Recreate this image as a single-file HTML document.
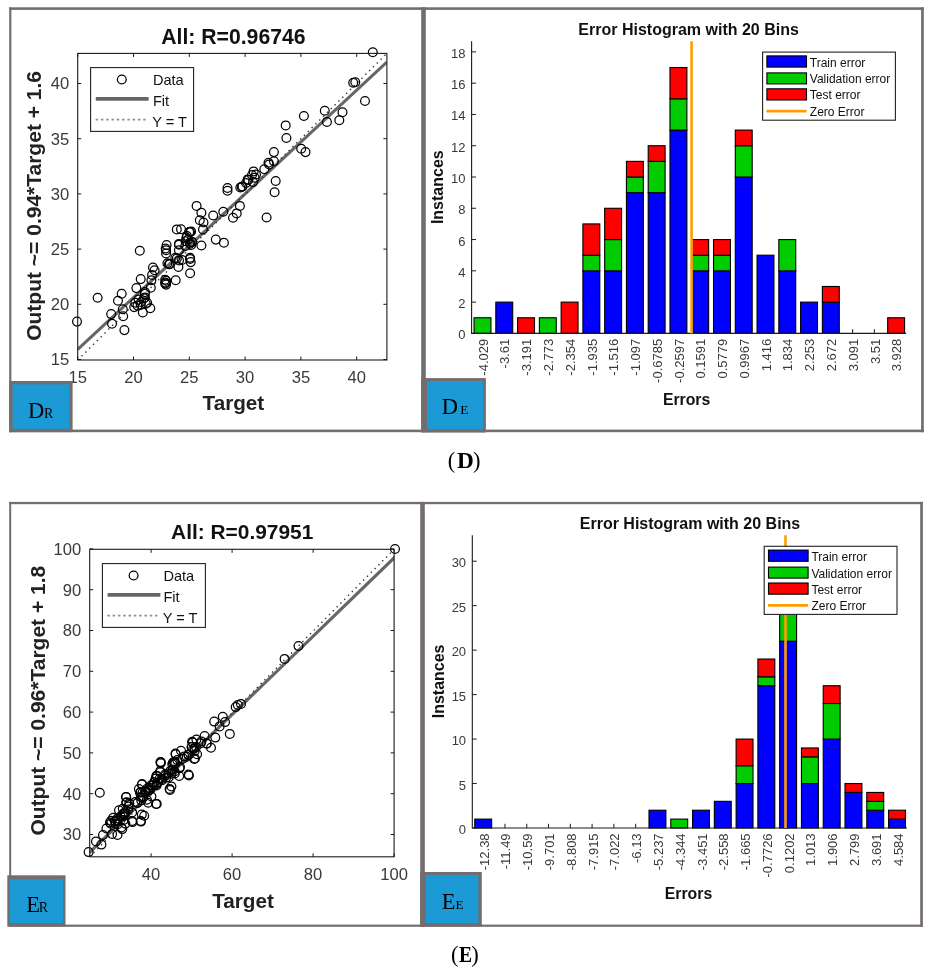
<!DOCTYPE html>
<html><head><meta charset="utf-8"><title>Figure</title>
<style>
html,body{margin:0;padding:0;background:#fff;width:934px;height:975px;overflow:hidden}
svg{display:block;position:absolute;left:0;top:0;filter:blur(0.5px)}
text{font-family:"Liberation Sans",sans-serif}
</style></head><body>
<svg width="934" height="975" viewBox="0 0 934 975">
<g>
<clipPath id="cdr"><rect x="77.7" y="53.4" width="309.2" height="306.6"/></clipPath>
<g clip-path="url(#cdr)">
<line x1="77.7" y1="349.4" x2="386.9" y2="62.1" stroke="#666" stroke-width="3.1"/>
<line x1="77.7" y1="360" x2="386.9" y2="53.4" stroke="#333" stroke-width="1.4" stroke-dasharray="1.4 4"/>
</g>
<circle cx="77" cy="321.6" r="4.4" fill="none" stroke="#000" stroke-width="1.25"/>
<circle cx="97.6" cy="297.7" r="4.4" fill="none" stroke="#000" stroke-width="1.25"/>
<circle cx="121.7" cy="293.7" r="4.4" fill="none" stroke="#000" stroke-width="1.25"/>
<circle cx="118" cy="300.7" r="4.4" fill="none" stroke="#000" stroke-width="1.25"/>
<circle cx="111.2" cy="314.1" r="4.4" fill="none" stroke="#000" stroke-width="1.25"/>
<circle cx="122.8" cy="309.3" r="4.4" fill="none" stroke="#000" stroke-width="1.25"/>
<circle cx="123.2" cy="316.2" r="4.4" fill="none" stroke="#000" stroke-width="1.25"/>
<circle cx="112" cy="323.7" r="4.4" fill="none" stroke="#000" stroke-width="1.25"/>
<circle cx="124.4" cy="330.1" r="4.4" fill="none" stroke="#000" stroke-width="1.25"/>
<circle cx="136.4" cy="288.1" r="4.4" fill="none" stroke="#000" stroke-width="1.25"/>
<circle cx="140.7" cy="279.1" r="4.4" fill="none" stroke="#000" stroke-width="1.25"/>
<circle cx="153" cy="267.5" r="4.4" fill="none" stroke="#000" stroke-width="1.25"/>
<circle cx="154.6" cy="270.2" r="4.4" fill="none" stroke="#000" stroke-width="1.25"/>
<circle cx="151.4" cy="280.3" r="4.4" fill="none" stroke="#000" stroke-width="1.25"/>
<circle cx="150.8" cy="287.8" r="4.4" fill="none" stroke="#000" stroke-width="1.25"/>
<circle cx="135.3" cy="302.8" r="4.4" fill="none" stroke="#000" stroke-width="1.25"/>
<circle cx="145" cy="297.5" r="4.4" fill="none" stroke="#000" stroke-width="1.25"/>
<circle cx="147.1" cy="302.8" r="4.4" fill="none" stroke="#000" stroke-width="1.25"/>
<circle cx="134.2" cy="307.1" r="4.4" fill="none" stroke="#000" stroke-width="1.25"/>
<circle cx="142.8" cy="312.5" r="4.4" fill="none" stroke="#000" stroke-width="1.25"/>
<circle cx="150.3" cy="308.2" r="4.4" fill="none" stroke="#000" stroke-width="1.25"/>
<circle cx="140.7" cy="305" r="4.4" fill="none" stroke="#000" stroke-width="1.25"/>
<circle cx="165.3" cy="282.5" r="4.4" fill="none" stroke="#000" stroke-width="1.25"/>
<circle cx="167.4" cy="263.2" r="4.4" fill="none" stroke="#000" stroke-width="1.25"/>
<circle cx="145" cy="292.1" r="4.4" fill="none" stroke="#000" stroke-width="1.25"/>
<circle cx="138.5" cy="299.6" r="4.4" fill="none" stroke="#000" stroke-width="1.25"/>
<circle cx="196.6" cy="205.9" r="4.4" fill="none" stroke="#000" stroke-width="1.25"/>
<circle cx="201.4" cy="212.8" r="4.4" fill="none" stroke="#000" stroke-width="1.25"/>
<circle cx="199.8" cy="220.3" r="4.4" fill="none" stroke="#000" stroke-width="1.25"/>
<circle cx="203.5" cy="222.5" r="4.4" fill="none" stroke="#000" stroke-width="1.25"/>
<circle cx="203" cy="229.4" r="4.4" fill="none" stroke="#000" stroke-width="1.25"/>
<circle cx="213.2" cy="215.5" r="4.4" fill="none" stroke="#000" stroke-width="1.25"/>
<circle cx="223.3" cy="211.8" r="4.4" fill="none" stroke="#000" stroke-width="1.25"/>
<circle cx="239.9" cy="205.9" r="4.4" fill="none" stroke="#000" stroke-width="1.25"/>
<circle cx="236.7" cy="213.4" r="4.4" fill="none" stroke="#000" stroke-width="1.25"/>
<circle cx="233" cy="217.7" r="4.4" fill="none" stroke="#000" stroke-width="1.25"/>
<circle cx="176.8" cy="229.4" r="4.4" fill="none" stroke="#000" stroke-width="1.25"/>
<circle cx="190.1" cy="232.1" r="4.4" fill="none" stroke="#000" stroke-width="1.25"/>
<circle cx="186.4" cy="237.5" r="4.4" fill="none" stroke="#000" stroke-width="1.25"/>
<circle cx="189.6" cy="242.8" r="4.4" fill="none" stroke="#000" stroke-width="1.25"/>
<circle cx="191.2" cy="245" r="4.4" fill="none" stroke="#000" stroke-width="1.25"/>
<circle cx="201.4" cy="245.5" r="4.4" fill="none" stroke="#000" stroke-width="1.25"/>
<circle cx="178.9" cy="243.9" r="4.4" fill="none" stroke="#000" stroke-width="1.25"/>
<circle cx="166.6" cy="245" r="4.4" fill="none" stroke="#000" stroke-width="1.25"/>
<circle cx="166.1" cy="250.3" r="4.4" fill="none" stroke="#000" stroke-width="1.25"/>
<circle cx="166.1" cy="253.5" r="4.4" fill="none" stroke="#000" stroke-width="1.25"/>
<circle cx="178.9" cy="250.3" r="4.4" fill="none" stroke="#000" stroke-width="1.25"/>
<circle cx="176.8" cy="258.4" r="4.4" fill="none" stroke="#000" stroke-width="1.25"/>
<circle cx="190.1" cy="258.9" r="4.4" fill="none" stroke="#000" stroke-width="1.25"/>
<circle cx="190.7" cy="262.1" r="4.4" fill="none" stroke="#000" stroke-width="1.25"/>
<circle cx="169.8" cy="264.2" r="4.4" fill="none" stroke="#000" stroke-width="1.25"/>
<circle cx="178.4" cy="266.9" r="4.4" fill="none" stroke="#000" stroke-width="1.25"/>
<circle cx="190.1" cy="273.3" r="4.4" fill="none" stroke="#000" stroke-width="1.25"/>
<circle cx="215.8" cy="239.6" r="4.4" fill="none" stroke="#000" stroke-width="1.25"/>
<circle cx="223.9" cy="242.8" r="4.4" fill="none" stroke="#000" stroke-width="1.25"/>
<circle cx="152.1" cy="274.9" r="4.4" fill="none" stroke="#000" stroke-width="1.25"/>
<circle cx="166.1" cy="280.8" r="4.4" fill="none" stroke="#000" stroke-width="1.25"/>
<circle cx="175.7" cy="280.3" r="4.4" fill="none" stroke="#000" stroke-width="1.25"/>
<circle cx="166.1" cy="284.6" r="4.4" fill="none" stroke="#000" stroke-width="1.25"/>
<circle cx="182.1" cy="260" r="4.4" fill="none" stroke="#000" stroke-width="1.25"/>
<circle cx="185.3" cy="246" r="4.4" fill="none" stroke="#000" stroke-width="1.25"/>
<circle cx="227.5" cy="188" r="4.4" fill="none" stroke="#000" stroke-width="1.25"/>
<circle cx="227.5" cy="190.7" r="4.4" fill="none" stroke="#000" stroke-width="1.25"/>
<circle cx="248.4" cy="180" r="4.4" fill="none" stroke="#000" stroke-width="1.25"/>
<circle cx="242.5" cy="186.4" r="4.4" fill="none" stroke="#000" stroke-width="1.25"/>
<circle cx="240.3" cy="187.5" r="4.4" fill="none" stroke="#000" stroke-width="1.25"/>
<circle cx="275.7" cy="181" r="4.4" fill="none" stroke="#000" stroke-width="1.25"/>
<circle cx="274.6" cy="192.3" r="4.4" fill="none" stroke="#000" stroke-width="1.25"/>
<circle cx="266.6" cy="217.5" r="4.4" fill="none" stroke="#000" stroke-width="1.25"/>
<circle cx="191.1" cy="231.4" r="4.4" fill="none" stroke="#000" stroke-width="1.25"/>
<circle cx="192.1" cy="242.1" r="4.4" fill="none" stroke="#000" stroke-width="1.25"/>
<circle cx="285.7" cy="125.4" r="4.4" fill="none" stroke="#000" stroke-width="1.25"/>
<circle cx="286.4" cy="138" r="4.4" fill="none" stroke="#000" stroke-width="1.25"/>
<circle cx="273.9" cy="152.1" r="4.4" fill="none" stroke="#000" stroke-width="1.25"/>
<circle cx="301.2" cy="148.7" r="4.4" fill="none" stroke="#000" stroke-width="1.25"/>
<circle cx="305.5" cy="152.1" r="4.4" fill="none" stroke="#000" stroke-width="1.25"/>
<circle cx="273.9" cy="161.2" r="4.4" fill="none" stroke="#000" stroke-width="1.25"/>
<circle cx="268.5" cy="162.8" r="4.4" fill="none" stroke="#000" stroke-width="1.25"/>
<circle cx="269.1" cy="164.4" r="4.4" fill="none" stroke="#000" stroke-width="1.25"/>
<circle cx="264.3" cy="169.3" r="4.4" fill="none" stroke="#000" stroke-width="1.25"/>
<circle cx="253.6" cy="171.4" r="4.4" fill="none" stroke="#000" stroke-width="1.25"/>
<circle cx="254.6" cy="177.8" r="4.4" fill="none" stroke="#000" stroke-width="1.25"/>
<circle cx="253" cy="182.1" r="4.4" fill="none" stroke="#000" stroke-width="1.25"/>
<circle cx="247.7" cy="179.4" r="4.4" fill="none" stroke="#000" stroke-width="1.25"/>
<circle cx="241.8" cy="186.9" r="4.4" fill="none" stroke="#000" stroke-width="1.25"/>
<circle cx="372.8" cy="52.3" r="4.4" fill="none" stroke="#000" stroke-width="1.25"/>
<circle cx="353.2" cy="82.8" r="4.4" fill="none" stroke="#000" stroke-width="1.25"/>
<circle cx="355.3" cy="82.3" r="4.4" fill="none" stroke="#000" stroke-width="1.25"/>
<circle cx="365" cy="101" r="4.4" fill="none" stroke="#000" stroke-width="1.25"/>
<circle cx="342.5" cy="112.3" r="4.4" fill="none" stroke="#000" stroke-width="1.25"/>
<circle cx="339.3" cy="120.3" r="4.4" fill="none" stroke="#000" stroke-width="1.25"/>
<circle cx="324.8" cy="110.7" r="4.4" fill="none" stroke="#000" stroke-width="1.25"/>
<circle cx="326.9" cy="121.9" r="4.4" fill="none" stroke="#000" stroke-width="1.25"/>
<circle cx="303.9" cy="116" r="4.4" fill="none" stroke="#000" stroke-width="1.25"/>
<circle cx="139.8" cy="250.8" r="4.4" fill="none" stroke="#000" stroke-width="1.25"/>
<circle cx="165.7" cy="248.5" r="4.4" fill="none" stroke="#000" stroke-width="1.25"/>
<circle cx="190.1" cy="243.8" r="4.4" fill="none" stroke="#000" stroke-width="1.25"/>
<circle cx="192" cy="242" r="4.4" fill="none" stroke="#000" stroke-width="1.25"/>
<circle cx="188.3" cy="239.2" r="4.4" fill="none" stroke="#000" stroke-width="1.25"/>
<circle cx="179" cy="244.8" r="4.4" fill="none" stroke="#000" stroke-width="1.25"/>
<circle cx="175.4" cy="257.7" r="4.4" fill="none" stroke="#000" stroke-width="1.25"/>
<circle cx="179" cy="260.4" r="4.4" fill="none" stroke="#000" stroke-width="1.25"/>
<circle cx="190.1" cy="257.7" r="4.4" fill="none" stroke="#000" stroke-width="1.25"/>
<circle cx="168.9" cy="264.1" r="4.4" fill="none" stroke="#000" stroke-width="1.25"/>
<circle cx="165.2" cy="279.8" r="4.4" fill="none" stroke="#000" stroke-width="1.25"/>
<circle cx="165.2" cy="283.5" r="4.4" fill="none" stroke="#000" stroke-width="1.25"/>
<circle cx="144" cy="298.3" r="4.4" fill="none" stroke="#000" stroke-width="1.25"/>
<circle cx="145.8" cy="303.8" r="4.4" fill="none" stroke="#000" stroke-width="1.25"/>
<circle cx="137.5" cy="305.6" r="4.4" fill="none" stroke="#000" stroke-width="1.25"/>
<circle cx="141.2" cy="302" r="4.4" fill="none" stroke="#000" stroke-width="1.25"/>
<circle cx="144.9" cy="293.7" r="4.4" fill="none" stroke="#000" stroke-width="1.25"/>
<circle cx="189.2" cy="232" r="4.4" fill="none" stroke="#000" stroke-width="1.25"/>
<circle cx="185.5" cy="241.2" r="4.4" fill="none" stroke="#000" stroke-width="1.25"/>
<circle cx="181" cy="229.2" r="4.4" fill="none" stroke="#000" stroke-width="1.25"/>
<circle cx="187" cy="236" r="4.4" fill="none" stroke="#000" stroke-width="1.25"/>
<circle cx="252" cy="175" r="4.4" fill="none" stroke="#000" stroke-width="1.25"/>
<circle cx="256" cy="174.5" r="4.4" fill="none" stroke="#000" stroke-width="1.25"/>
<circle cx="246" cy="183" r="4.4" fill="none" stroke="#000" stroke-width="1.25"/>
<rect x="77.7" y="53.4" width="309.2" height="306.6" fill="none" stroke="#1a1a1a" stroke-width="1.1"/>
<line x1="77.7" y1="360" x2="77.7" y2="356.5" stroke="#1a1a1a" stroke-width="1"/>
<line x1="77.7" y1="53.4" x2="77.7" y2="56.9" stroke="#1a1a1a" stroke-width="1"/>
<text x="77.7" y="383.4" font-size="16.6" fill="#3a3a3a" text-anchor="middle">15</text>
<line x1="133.5" y1="360" x2="133.5" y2="356.5" stroke="#1a1a1a" stroke-width="1"/>
<line x1="133.5" y1="53.4" x2="133.5" y2="56.9" stroke="#1a1a1a" stroke-width="1"/>
<text x="133.5" y="383.4" font-size="16.6" fill="#3a3a3a" text-anchor="middle">20</text>
<line x1="189.3" y1="360" x2="189.3" y2="356.5" stroke="#1a1a1a" stroke-width="1"/>
<line x1="189.3" y1="53.4" x2="189.3" y2="56.9" stroke="#1a1a1a" stroke-width="1"/>
<text x="189.3" y="383.4" font-size="16.6" fill="#3a3a3a" text-anchor="middle">25</text>
<line x1="245.1" y1="360" x2="245.1" y2="356.5" stroke="#1a1a1a" stroke-width="1"/>
<line x1="245.1" y1="53.4" x2="245.1" y2="56.9" stroke="#1a1a1a" stroke-width="1"/>
<text x="245.1" y="383.4" font-size="16.6" fill="#3a3a3a" text-anchor="middle">30</text>
<line x1="300.9" y1="360" x2="300.9" y2="356.5" stroke="#1a1a1a" stroke-width="1"/>
<line x1="300.9" y1="53.4" x2="300.9" y2="56.9" stroke="#1a1a1a" stroke-width="1"/>
<text x="300.9" y="383.4" font-size="16.6" fill="#3a3a3a" text-anchor="middle">35</text>
<line x1="356.7" y1="360" x2="356.7" y2="356.5" stroke="#1a1a1a" stroke-width="1"/>
<line x1="356.7" y1="53.4" x2="356.7" y2="56.9" stroke="#1a1a1a" stroke-width="1"/>
<text x="356.7" y="383.4" font-size="16.6" fill="#3a3a3a" text-anchor="middle">40</text>
<line x1="77.7" y1="359.5" x2="81.2" y2="359.5" stroke="#1a1a1a" stroke-width="1"/>
<line x1="386.9" y1="359.5" x2="383.4" y2="359.5" stroke="#1a1a1a" stroke-width="1"/>
<text x="69.3" y="365.44" font-size="16.6" fill="#3a3a3a" text-anchor="end">15</text>
<line x1="77.7" y1="304.3" x2="81.2" y2="304.3" stroke="#1a1a1a" stroke-width="1"/>
<line x1="386.9" y1="304.3" x2="383.4" y2="304.3" stroke="#1a1a1a" stroke-width="1"/>
<text x="69.3" y="310.24" font-size="16.6" fill="#3a3a3a" text-anchor="end">20</text>
<line x1="77.7" y1="249.1" x2="81.2" y2="249.1" stroke="#1a1a1a" stroke-width="1"/>
<line x1="386.9" y1="249.1" x2="383.4" y2="249.1" stroke="#1a1a1a" stroke-width="1"/>
<text x="69.3" y="255.04" font-size="16.6" fill="#3a3a3a" text-anchor="end">25</text>
<line x1="77.7" y1="193.9" x2="81.2" y2="193.9" stroke="#1a1a1a" stroke-width="1"/>
<line x1="386.9" y1="193.9" x2="383.4" y2="193.9" stroke="#1a1a1a" stroke-width="1"/>
<text x="69.3" y="199.84" font-size="16.6" fill="#3a3a3a" text-anchor="end">30</text>
<line x1="77.7" y1="138.7" x2="81.2" y2="138.7" stroke="#1a1a1a" stroke-width="1"/>
<line x1="386.9" y1="138.7" x2="383.4" y2="138.7" stroke="#1a1a1a" stroke-width="1"/>
<text x="69.3" y="144.64" font-size="16.6" fill="#3a3a3a" text-anchor="end">35</text>
<line x1="77.7" y1="83.5" x2="81.2" y2="83.5" stroke="#1a1a1a" stroke-width="1"/>
<line x1="386.9" y1="83.5" x2="383.4" y2="83.5" stroke="#1a1a1a" stroke-width="1"/>
<text x="69.3" y="89.44" font-size="16.6" fill="#3a3a3a" text-anchor="end">40</text>
<rect x="90.6" y="67.6" width="103" height="63.8" fill="#fff" stroke="#222" stroke-width="1.1"/>
<circle cx="121.8" cy="79.5" r="4.4" fill="none" stroke="#000" stroke-width="1.25"/>
<line x1="95.8" y1="98.9" x2="148.6" y2="98.9" stroke="#666" stroke-width="3.6"/>
<line x1="95.6" y1="119.7" x2="145.6" y2="119.7" stroke="#8a8a8a" stroke-width="1.7" stroke-dasharray="2.4 2.9"/>
<text x="152.9" y="85.1" font-size="14.6" fill="#111">Data</text>
<text x="152.9" y="105.9" font-size="14.6" fill="#111">Fit</text>
<text x="152.2" y="126.9" font-size="14.6" fill="#111">Y = T</text>
<text x="233.4" y="43.6" font-size="21.2" font-weight="bold" fill="#111" text-anchor="middle">All: R=0.96746</text>
<text x="233.4" y="410.4" font-size="20.7" font-weight="bold" fill="#222" text-anchor="middle">Target</text>
<text transform="translate(41.2,205.9) rotate(-90)" x="0" y="0" font-size="21" font-weight="bold" fill="#222" text-anchor="middle">Output ~= 0.94*Target + 1.6</text>
</g>
<g>
<line x1="482.5" y1="333.4" x2="482.5" y2="329.2" stroke="#1a1a1a" stroke-width="1"/>
<line x1="504.27" y1="333.4" x2="504.27" y2="329.2" stroke="#1a1a1a" stroke-width="1"/>
<line x1="526.04" y1="333.4" x2="526.04" y2="329.2" stroke="#1a1a1a" stroke-width="1"/>
<line x1="547.81" y1="333.4" x2="547.81" y2="329.2" stroke="#1a1a1a" stroke-width="1"/>
<line x1="569.58" y1="333.4" x2="569.58" y2="329.2" stroke="#1a1a1a" stroke-width="1"/>
<line x1="591.35" y1="333.4" x2="591.35" y2="329.2" stroke="#1a1a1a" stroke-width="1"/>
<line x1="613.12" y1="333.4" x2="613.12" y2="329.2" stroke="#1a1a1a" stroke-width="1"/>
<line x1="634.89" y1="333.4" x2="634.89" y2="329.2" stroke="#1a1a1a" stroke-width="1"/>
<line x1="656.66" y1="333.4" x2="656.66" y2="329.2" stroke="#1a1a1a" stroke-width="1"/>
<line x1="678.43" y1="333.4" x2="678.43" y2="329.2" stroke="#1a1a1a" stroke-width="1"/>
<line x1="700.2" y1="333.4" x2="700.2" y2="329.2" stroke="#1a1a1a" stroke-width="1"/>
<line x1="721.97" y1="333.4" x2="721.97" y2="329.2" stroke="#1a1a1a" stroke-width="1"/>
<line x1="743.74" y1="333.4" x2="743.74" y2="329.2" stroke="#1a1a1a" stroke-width="1"/>
<line x1="765.51" y1="333.4" x2="765.51" y2="329.2" stroke="#1a1a1a" stroke-width="1"/>
<line x1="787.28" y1="333.4" x2="787.28" y2="329.2" stroke="#1a1a1a" stroke-width="1"/>
<line x1="809.05" y1="333.4" x2="809.05" y2="329.2" stroke="#1a1a1a" stroke-width="1"/>
<line x1="830.82" y1="333.4" x2="830.82" y2="329.2" stroke="#1a1a1a" stroke-width="1"/>
<line x1="852.59" y1="333.4" x2="852.59" y2="329.2" stroke="#1a1a1a" stroke-width="1"/>
<line x1="874.36" y1="333.4" x2="874.36" y2="329.2" stroke="#1a1a1a" stroke-width="1"/>
<line x1="896.13" y1="333.4" x2="896.13" y2="329.2" stroke="#1a1a1a" stroke-width="1"/>
<rect x="474.05" y="317.76" width="16.9" height="15.64" fill="#00cc00" stroke="#000" stroke-width="1.1"/>
<rect x="495.82" y="302.12" width="16.9" height="31.28" fill="#0000ff" stroke="#000" stroke-width="1.1"/>
<rect x="517.59" y="317.76" width="16.9" height="15.64" fill="#ff0000" stroke="#000" stroke-width="1.1"/>
<rect x="539.36" y="317.76" width="16.9" height="15.64" fill="#00cc00" stroke="#000" stroke-width="1.1"/>
<rect x="561.13" y="302.12" width="16.9" height="31.28" fill="#ff0000" stroke="#000" stroke-width="1.1"/>
<rect x="582.9" y="270.84" width="16.9" height="62.56" fill="#0000ff" stroke="#000" stroke-width="1.1"/>
<rect x="582.9" y="255.2" width="16.9" height="15.64" fill="#00cc00" stroke="#000" stroke-width="1.1"/>
<rect x="582.9" y="223.92" width="16.9" height="31.28" fill="#ff0000" stroke="#000" stroke-width="1.1"/>
<rect x="604.67" y="270.84" width="16.9" height="62.56" fill="#0000ff" stroke="#000" stroke-width="1.1"/>
<rect x="604.67" y="239.56" width="16.9" height="31.28" fill="#00cc00" stroke="#000" stroke-width="1.1"/>
<rect x="604.67" y="208.28" width="16.9" height="31.28" fill="#ff0000" stroke="#000" stroke-width="1.1"/>
<rect x="626.44" y="192.64" width="16.9" height="140.76" fill="#0000ff" stroke="#000" stroke-width="1.1"/>
<rect x="626.44" y="177" width="16.9" height="15.64" fill="#00cc00" stroke="#000" stroke-width="1.1"/>
<rect x="626.44" y="161.36" width="16.9" height="15.64" fill="#ff0000" stroke="#000" stroke-width="1.1"/>
<rect x="648.21" y="192.64" width="16.9" height="140.76" fill="#0000ff" stroke="#000" stroke-width="1.1"/>
<rect x="648.21" y="161.36" width="16.9" height="31.28" fill="#00cc00" stroke="#000" stroke-width="1.1"/>
<rect x="648.21" y="145.72" width="16.9" height="15.64" fill="#ff0000" stroke="#000" stroke-width="1.1"/>
<rect x="669.98" y="130.08" width="16.9" height="203.32" fill="#0000ff" stroke="#000" stroke-width="1.1"/>
<rect x="669.98" y="98.8" width="16.9" height="31.28" fill="#00cc00" stroke="#000" stroke-width="1.1"/>
<rect x="669.98" y="67.52" width="16.9" height="31.28" fill="#ff0000" stroke="#000" stroke-width="1.1"/>
<rect x="691.75" y="270.84" width="16.9" height="62.56" fill="#0000ff" stroke="#000" stroke-width="1.1"/>
<rect x="691.75" y="255.2" width="16.9" height="15.64" fill="#00cc00" stroke="#000" stroke-width="1.1"/>
<rect x="691.75" y="239.56" width="16.9" height="15.64" fill="#ff0000" stroke="#000" stroke-width="1.1"/>
<rect x="713.52" y="270.84" width="16.9" height="62.56" fill="#0000ff" stroke="#000" stroke-width="1.1"/>
<rect x="713.52" y="255.2" width="16.9" height="15.64" fill="#00cc00" stroke="#000" stroke-width="1.1"/>
<rect x="713.52" y="239.56" width="16.9" height="15.64" fill="#ff0000" stroke="#000" stroke-width="1.1"/>
<rect x="735.29" y="177" width="16.9" height="156.4" fill="#0000ff" stroke="#000" stroke-width="1.1"/>
<rect x="735.29" y="145.72" width="16.9" height="31.28" fill="#00cc00" stroke="#000" stroke-width="1.1"/>
<rect x="735.29" y="130.08" width="16.9" height="15.64" fill="#ff0000" stroke="#000" stroke-width="1.1"/>
<rect x="757.06" y="255.2" width="16.9" height="78.2" fill="#0000ff" stroke="#000" stroke-width="1.1"/>
<rect x="778.83" y="270.84" width="16.9" height="62.56" fill="#0000ff" stroke="#000" stroke-width="1.1"/>
<rect x="778.83" y="239.56" width="16.9" height="31.28" fill="#00cc00" stroke="#000" stroke-width="1.1"/>
<rect x="800.6" y="302.12" width="16.9" height="31.28" fill="#0000ff" stroke="#000" stroke-width="1.1"/>
<rect x="822.37" y="302.12" width="16.9" height="31.28" fill="#0000ff" stroke="#000" stroke-width="1.1"/>
<rect x="822.37" y="286.48" width="16.9" height="15.64" fill="#ff0000" stroke="#000" stroke-width="1.1"/>
<rect x="887.68" y="317.76" width="16.9" height="15.64" fill="#ff0000" stroke="#000" stroke-width="1.1"/>
<text transform="translate(487.7,338.8) rotate(-90)" x="0" y="0" font-size="13" fill="#3a3a3a" text-anchor="end">-4.029</text>
<text transform="translate(509.47,338.8) rotate(-90)" x="0" y="0" font-size="13" fill="#3a3a3a" text-anchor="end">-3.61</text>
<text transform="translate(531.24,338.8) rotate(-90)" x="0" y="0" font-size="13" fill="#3a3a3a" text-anchor="end">-3.191</text>
<text transform="translate(553.01,338.8) rotate(-90)" x="0" y="0" font-size="13" fill="#3a3a3a" text-anchor="end">-2.773</text>
<text transform="translate(574.78,338.8) rotate(-90)" x="0" y="0" font-size="13" fill="#3a3a3a" text-anchor="end">-2.354</text>
<text transform="translate(596.55,338.8) rotate(-90)" x="0" y="0" font-size="13" fill="#3a3a3a" text-anchor="end">-1.935</text>
<text transform="translate(618.32,338.8) rotate(-90)" x="0" y="0" font-size="13" fill="#3a3a3a" text-anchor="end">-1.516</text>
<text transform="translate(640.09,338.8) rotate(-90)" x="0" y="0" font-size="13" fill="#3a3a3a" text-anchor="end">-1.097</text>
<text transform="translate(661.86,338.8) rotate(-90)" x="0" y="0" font-size="13" fill="#3a3a3a" text-anchor="end">-0.6785</text>
<text transform="translate(683.63,338.8) rotate(-90)" x="0" y="0" font-size="13" fill="#3a3a3a" text-anchor="end">-0.2597</text>
<text transform="translate(705.4,338.8) rotate(-90)" x="0" y="0" font-size="13" fill="#3a3a3a" text-anchor="end">0.1591</text>
<text transform="translate(727.17,338.8) rotate(-90)" x="0" y="0" font-size="13" fill="#3a3a3a" text-anchor="end">0.5779</text>
<text transform="translate(748.94,338.8) rotate(-90)" x="0" y="0" font-size="13" fill="#3a3a3a" text-anchor="end">0.9967</text>
<text transform="translate(770.71,338.8) rotate(-90)" x="0" y="0" font-size="13" fill="#3a3a3a" text-anchor="end">1.416</text>
<text transform="translate(792.48,338.8) rotate(-90)" x="0" y="0" font-size="13" fill="#3a3a3a" text-anchor="end">1.834</text>
<text transform="translate(814.25,338.8) rotate(-90)" x="0" y="0" font-size="13" fill="#3a3a3a" text-anchor="end">2.253</text>
<text transform="translate(836.02,338.8) rotate(-90)" x="0" y="0" font-size="13" fill="#3a3a3a" text-anchor="end">2.672</text>
<text transform="translate(857.79,338.8) rotate(-90)" x="0" y="0" font-size="13" fill="#3a3a3a" text-anchor="end">3.091</text>
<text transform="translate(879.56,338.8) rotate(-90)" x="0" y="0" font-size="13" fill="#3a3a3a" text-anchor="end">3.51</text>
<text transform="translate(901.33,338.8) rotate(-90)" x="0" y="0" font-size="13" fill="#3a3a3a" text-anchor="end">3.928</text>
<line x1="471.6" y1="41.3" x2="471.6" y2="333.9" stroke="#1a1a1a" stroke-width="1.1"/>
<line x1="471.6" y1="333.4" x2="906.2" y2="333.4" stroke="#1a1a1a" stroke-width="1.1"/>
<line x1="471.6" y1="333.4" x2="476" y2="333.4" stroke="#1a1a1a" stroke-width="1"/>
<text x="465.4" y="339.4" font-size="13" fill="#3a3a3a" text-anchor="end">0</text>
<line x1="471.6" y1="302.12" x2="476" y2="302.12" stroke="#1a1a1a" stroke-width="1"/>
<text x="465.4" y="308.12" font-size="13" fill="#3a3a3a" text-anchor="end">2</text>
<line x1="471.6" y1="270.84" x2="476" y2="270.84" stroke="#1a1a1a" stroke-width="1"/>
<text x="465.4" y="276.84" font-size="13" fill="#3a3a3a" text-anchor="end">4</text>
<line x1="471.6" y1="239.56" x2="476" y2="239.56" stroke="#1a1a1a" stroke-width="1"/>
<text x="465.4" y="245.56" font-size="13" fill="#3a3a3a" text-anchor="end">6</text>
<line x1="471.6" y1="208.28" x2="476" y2="208.28" stroke="#1a1a1a" stroke-width="1"/>
<text x="465.4" y="214.28" font-size="13" fill="#3a3a3a" text-anchor="end">8</text>
<line x1="471.6" y1="177" x2="476" y2="177" stroke="#1a1a1a" stroke-width="1"/>
<text x="465.4" y="183" font-size="13" fill="#3a3a3a" text-anchor="end">10</text>
<line x1="471.6" y1="145.72" x2="476" y2="145.72" stroke="#1a1a1a" stroke-width="1"/>
<text x="465.4" y="151.72" font-size="13" fill="#3a3a3a" text-anchor="end">12</text>
<line x1="471.6" y1="114.44" x2="476" y2="114.44" stroke="#1a1a1a" stroke-width="1"/>
<text x="465.4" y="120.44" font-size="13" fill="#3a3a3a" text-anchor="end">14</text>
<line x1="471.6" y1="83.16" x2="476" y2="83.16" stroke="#1a1a1a" stroke-width="1"/>
<text x="465.4" y="89.16" font-size="13" fill="#3a3a3a" text-anchor="end">16</text>
<line x1="471.6" y1="51.88" x2="476" y2="51.88" stroke="#1a1a1a" stroke-width="1"/>
<text x="465.4" y="57.88" font-size="13" fill="#3a3a3a" text-anchor="end">18</text>
<line x1="691.6" y1="41.3" x2="691.6" y2="333.4" stroke="#ff9d00" stroke-width="2.6"/>
<rect x="762.6" y="52.1" width="132.8" height="68.1" fill="#fff" stroke="#222" stroke-width="1.1"/>
<rect x="766.9" y="55.9" width="39.6" height="11.2" fill="#0000ff" stroke="#000" stroke-width="1.1"/>
<rect x="766.9" y="72.9" width="39.6" height="11" fill="#00cc00" stroke="#000" stroke-width="1.1"/>
<rect x="766.9" y="88.8" width="39.6" height="11.2" fill="#ff0000" stroke="#000" stroke-width="1.1"/>
<line x1="766.4" y1="111.1" x2="806.6" y2="111.1" stroke="#ff9d00" stroke-width="2.8"/>
<text x="809.8" y="66.7" font-size="12" fill="#111">Train error</text>
<text x="809.8" y="83.3" font-size="12" fill="#111">Validation error</text>
<text x="809.8" y="99.4" font-size="12" fill="#111">Test error</text>
<text x="809.8" y="115.6" font-size="12" fill="#111">Zero Error</text>
<text x="688.6" y="35.2" font-size="16" font-weight="bold" fill="#111" text-anchor="middle">Error Histogram with 20 Bins</text>
<text x="686.6" y="405.1" font-size="15.8" font-weight="bold" fill="#111" text-anchor="middle">Errors</text>
<text transform="translate(443.3,187.2) rotate(-90)" x="0" y="0" font-size="16" font-weight="bold" fill="#111" text-anchor="middle">Instances</text>
</g>
<g>
<clipPath id="cer"><rect x="89.7" y="549.3" width="304.4" height="307.5"/></clipPath>
<g clip-path="url(#cer)">
<line x1="89.14" y1="852.81" x2="396.12" y2="555.92" stroke="#666" stroke-width="3.1"/>
<line x1="89.7" y1="856.8" x2="394.1" y2="549.3" stroke="#333" stroke-width="1.4" stroke-dasharray="1.4 4"/>
</g>
<circle cx="99.8" cy="792.7" r="4.4" fill="none" stroke="#000" stroke-width="1.25"/>
<circle cx="160.8" cy="763.2" r="4.4" fill="none" stroke="#000" stroke-width="1.25"/>
<circle cx="88.6" cy="852.1" r="4.4" fill="none" stroke="#000" stroke-width="1.25"/>
<circle cx="126" cy="797" r="4.4" fill="none" stroke="#000" stroke-width="1.25"/>
<circle cx="126.6" cy="802.3" r="4.4" fill="none" stroke="#000" stroke-width="1.25"/>
<circle cx="103" cy="835" r="4.4" fill="none" stroke="#000" stroke-width="1.25"/>
<circle cx="96" cy="841.4" r="4.4" fill="none" stroke="#000" stroke-width="1.25"/>
<circle cx="101.4" cy="844.6" r="4.4" fill="none" stroke="#000" stroke-width="1.25"/>
<circle cx="142.1" cy="784.1" r="4.4" fill="none" stroke="#000" stroke-width="1.25"/>
<circle cx="140" cy="792.7" r="4.4" fill="none" stroke="#000" stroke-width="1.25"/>
<circle cx="157.1" cy="776" r="4.4" fill="none" stroke="#000" stroke-width="1.25"/>
<circle cx="156" cy="803.9" r="4.4" fill="none" stroke="#000" stroke-width="1.25"/>
<circle cx="170" cy="790" r="4.4" fill="none" stroke="#000" stroke-width="1.25"/>
<circle cx="141" cy="821.6" r="4.4" fill="none" stroke="#000" stroke-width="1.25"/>
<circle cx="132.5" cy="822.1" r="4.4" fill="none" stroke="#000" stroke-width="1.25"/>
<circle cx="144.2" cy="815.7" r="4.4" fill="none" stroke="#000" stroke-width="1.25"/>
<circle cx="115.3" cy="821.6" r="4.4" fill="none" stroke="#000" stroke-width="1.25"/>
<circle cx="122.3" cy="829.1" r="4.4" fill="none" stroke="#000" stroke-width="1.25"/>
<circle cx="117.5" cy="835" r="4.4" fill="none" stroke="#000" stroke-width="1.25"/>
<circle cx="112.1" cy="833.9" r="4.4" fill="none" stroke="#000" stroke-width="1.25"/>
<circle cx="237.8" cy="705" r="4.4" fill="none" stroke="#000" stroke-width="1.25"/>
<circle cx="241" cy="703.9" r="4.4" fill="none" stroke="#000" stroke-width="1.25"/>
<circle cx="235.7" cy="707.1" r="4.4" fill="none" stroke="#000" stroke-width="1.25"/>
<circle cx="214.2" cy="721.6" r="4.4" fill="none" stroke="#000" stroke-width="1.25"/>
<circle cx="222.8" cy="716.8" r="4.4" fill="none" stroke="#000" stroke-width="1.25"/>
<circle cx="225" cy="722.1" r="4.4" fill="none" stroke="#000" stroke-width="1.25"/>
<circle cx="219.6" cy="726.4" r="4.4" fill="none" stroke="#000" stroke-width="1.25"/>
<circle cx="229.8" cy="733.9" r="4.4" fill="none" stroke="#000" stroke-width="1.25"/>
<circle cx="215.3" cy="737.6" r="4.4" fill="none" stroke="#000" stroke-width="1.25"/>
<circle cx="204.6" cy="736" r="4.4" fill="none" stroke="#000" stroke-width="1.25"/>
<circle cx="201.4" cy="741.4" r="4.4" fill="none" stroke="#000" stroke-width="1.25"/>
<circle cx="192.8" cy="742.5" r="4.4" fill="none" stroke="#000" stroke-width="1.25"/>
<circle cx="206.7" cy="743.5" r="4.4" fill="none" stroke="#000" stroke-width="1.25"/>
<circle cx="211" cy="747.8" r="4.4" fill="none" stroke="#000" stroke-width="1.25"/>
<circle cx="197.1" cy="754.2" r="4.4" fill="none" stroke="#000" stroke-width="1.25"/>
<circle cx="195" cy="758.5" r="4.4" fill="none" stroke="#000" stroke-width="1.25"/>
<circle cx="175.7" cy="754.2" r="4.4" fill="none" stroke="#000" stroke-width="1.25"/>
<circle cx="184.3" cy="756.4" r="4.4" fill="none" stroke="#000" stroke-width="1.25"/>
<circle cx="160.7" cy="762.3" r="4.4" fill="none" stroke="#000" stroke-width="1.25"/>
<circle cx="174.6" cy="762.8" r="4.4" fill="none" stroke="#000" stroke-width="1.25"/>
<circle cx="180" cy="767.1" r="4.4" fill="none" stroke="#000" stroke-width="1.25"/>
<circle cx="188.5" cy="774.6" r="4.4" fill="none" stroke="#000" stroke-width="1.25"/>
<circle cx="174.6" cy="771.4" r="4.4" fill="none" stroke="#000" stroke-width="1.25"/>
<circle cx="156.4" cy="775.7" r="4.4" fill="none" stroke="#000" stroke-width="1.25"/>
<circle cx="166.1" cy="777.8" r="4.4" fill="none" stroke="#000" stroke-width="1.25"/>
<circle cx="156.4" cy="784.2" r="4.4" fill="none" stroke="#000" stroke-width="1.25"/>
<circle cx="171.4" cy="786.4" r="4.4" fill="none" stroke="#000" stroke-width="1.25"/>
<circle cx="160.5" cy="762.1" r="4.4" fill="none" stroke="#000" stroke-width="1.25"/>
<circle cx="175.5" cy="753.6" r="4.4" fill="none" stroke="#000" stroke-width="1.25"/>
<circle cx="186.7" cy="756.8" r="4.4" fill="none" stroke="#000" stroke-width="1.25"/>
<circle cx="192.1" cy="741.8" r="4.4" fill="none" stroke="#000" stroke-width="1.25"/>
<circle cx="196.4" cy="739.6" r="4.4" fill="none" stroke="#000" stroke-width="1.25"/>
<circle cx="194.2" cy="758.9" r="4.4" fill="none" stroke="#000" stroke-width="1.25"/>
<circle cx="188.9" cy="775.5" r="4.4" fill="none" stroke="#000" stroke-width="1.25"/>
<circle cx="179.2" cy="776" r="4.4" fill="none" stroke="#000" stroke-width="1.25"/>
<circle cx="173.9" cy="762.1" r="4.4" fill="none" stroke="#000" stroke-width="1.25"/>
<circle cx="172.8" cy="769.6" r="4.4" fill="none" stroke="#000" stroke-width="1.25"/>
<circle cx="156.7" cy="776" r="4.4" fill="none" stroke="#000" stroke-width="1.25"/>
<circle cx="162.1" cy="780.3" r="4.4" fill="none" stroke="#000" stroke-width="1.25"/>
<circle cx="169.6" cy="788.9" r="4.4" fill="none" stroke="#000" stroke-width="1.25"/>
<circle cx="141.8" cy="784.6" r="4.4" fill="none" stroke="#000" stroke-width="1.25"/>
<circle cx="149.3" cy="787.8" r="4.4" fill="none" stroke="#000" stroke-width="1.25"/>
<circle cx="140.7" cy="792.1" r="4.4" fill="none" stroke="#000" stroke-width="1.25"/>
<circle cx="151.4" cy="796.4" r="4.4" fill="none" stroke="#000" stroke-width="1.25"/>
<circle cx="156.7" cy="803.9" r="4.4" fill="none" stroke="#000" stroke-width="1.25"/>
<circle cx="126.2" cy="796.9" r="4.4" fill="none" stroke="#000" stroke-width="1.25"/>
<circle cx="126.2" cy="802.8" r="4.4" fill="none" stroke="#000" stroke-width="1.25"/>
<circle cx="137.5" cy="802.8" r="4.4" fill="none" stroke="#000" stroke-width="1.25"/>
<circle cx="148.2" cy="802.8" r="4.4" fill="none" stroke="#000" stroke-width="1.25"/>
<circle cx="123.6" cy="813.5" r="4.4" fill="none" stroke="#000" stroke-width="1.25"/>
<circle cx="132.1" cy="812.4" r="4.4" fill="none" stroke="#000" stroke-width="1.25"/>
<circle cx="141.8" cy="814.6" r="4.4" fill="none" stroke="#000" stroke-width="1.25"/>
<circle cx="140.7" cy="821" r="4.4" fill="none" stroke="#000" stroke-width="1.25"/>
<circle cx="132.1" cy="821" r="4.4" fill="none" stroke="#000" stroke-width="1.25"/>
<circle cx="115" cy="821" r="4.4" fill="none" stroke="#000" stroke-width="1.25"/>
<circle cx="123.6" cy="819.9" r="4.4" fill="none" stroke="#000" stroke-width="1.25"/>
<circle cx="121.4" cy="827.4" r="4.4" fill="none" stroke="#000" stroke-width="1.25"/>
<circle cx="106.4" cy="828.5" r="4.4" fill="none" stroke="#000" stroke-width="1.25"/>
<circle cx="284.6" cy="658.9" r="4.4" fill="none" stroke="#000" stroke-width="1.25"/>
<circle cx="298.5" cy="646" r="4.4" fill="none" stroke="#000" stroke-width="1.25"/>
<circle cx="395" cy="549" r="4.4" fill="none" stroke="#000" stroke-width="1.25"/>
<circle cx="141.25" cy="800.51" r="4.4" fill="none" stroke="#000" stroke-width="1.25"/>
<circle cx="117.59" cy="824.16" r="4.4" fill="none" stroke="#000" stroke-width="1.25"/>
<circle cx="159.48" cy="778.7" r="4.4" fill="none" stroke="#000" stroke-width="1.25"/>
<circle cx="157.78" cy="782.43" r="4.4" fill="none" stroke="#000" stroke-width="1.25"/>
<circle cx="110.88" cy="823.78" r="4.4" fill="none" stroke="#000" stroke-width="1.25"/>
<circle cx="117.13" cy="820.11" r="4.4" fill="none" stroke="#000" stroke-width="1.25"/>
<circle cx="149.7" cy="789.93" r="4.4" fill="none" stroke="#000" stroke-width="1.25"/>
<circle cx="128.66" cy="806.62" r="4.4" fill="none" stroke="#000" stroke-width="1.25"/>
<circle cx="171.56" cy="773.8" r="4.4" fill="none" stroke="#000" stroke-width="1.25"/>
<circle cx="145.56" cy="790.91" r="4.4" fill="none" stroke="#000" stroke-width="1.25"/>
<circle cx="206.82" cy="743.58" r="4.4" fill="none" stroke="#000" stroke-width="1.25"/>
<circle cx="137.33" cy="802.98" r="4.4" fill="none" stroke="#000" stroke-width="1.25"/>
<circle cx="123.37" cy="816.35" r="4.4" fill="none" stroke="#000" stroke-width="1.25"/>
<circle cx="188.42" cy="755.09" r="4.4" fill="none" stroke="#000" stroke-width="1.25"/>
<circle cx="122.82" cy="808.65" r="4.4" fill="none" stroke="#000" stroke-width="1.25"/>
<circle cx="142.6" cy="792.48" r="4.4" fill="none" stroke="#000" stroke-width="1.25"/>
<circle cx="161.84" cy="778.91" r="4.4" fill="none" stroke="#000" stroke-width="1.25"/>
<circle cx="128.27" cy="809.57" r="4.4" fill="none" stroke="#000" stroke-width="1.25"/>
<circle cx="172.3" cy="764.26" r="4.4" fill="none" stroke="#000" stroke-width="1.25"/>
<circle cx="165.63" cy="775.61" r="4.4" fill="none" stroke="#000" stroke-width="1.25"/>
<circle cx="150.77" cy="785.48" r="4.4" fill="none" stroke="#000" stroke-width="1.25"/>
<circle cx="179.49" cy="768.34" r="4.4" fill="none" stroke="#000" stroke-width="1.25"/>
<circle cx="129.31" cy="803.24" r="4.4" fill="none" stroke="#000" stroke-width="1.25"/>
<circle cx="191.69" cy="747.08" r="4.4" fill="none" stroke="#000" stroke-width="1.25"/>
<circle cx="177.32" cy="760.08" r="4.4" fill="none" stroke="#000" stroke-width="1.25"/>
<circle cx="125.37" cy="823.61" r="4.4" fill="none" stroke="#000" stroke-width="1.25"/>
<circle cx="148.61" cy="790.01" r="4.4" fill="none" stroke="#000" stroke-width="1.25"/>
<circle cx="154.18" cy="782.16" r="4.4" fill="none" stroke="#000" stroke-width="1.25"/>
<circle cx="109.98" cy="822.48" r="4.4" fill="none" stroke="#000" stroke-width="1.25"/>
<circle cx="160.36" cy="772.39" r="4.4" fill="none" stroke="#000" stroke-width="1.25"/>
<circle cx="191.61" cy="746.93" r="4.4" fill="none" stroke="#000" stroke-width="1.25"/>
<circle cx="168.74" cy="777.23" r="4.4" fill="none" stroke="#000" stroke-width="1.25"/>
<circle cx="160.24" cy="770.93" r="4.4" fill="none" stroke="#000" stroke-width="1.25"/>
<circle cx="200.77" cy="743.25" r="4.4" fill="none" stroke="#000" stroke-width="1.25"/>
<circle cx="153.59" cy="784.43" r="4.4" fill="none" stroke="#000" stroke-width="1.25"/>
<circle cx="175.38" cy="763.46" r="4.4" fill="none" stroke="#000" stroke-width="1.25"/>
<circle cx="174.81" cy="773.45" r="4.4" fill="none" stroke="#000" stroke-width="1.25"/>
<circle cx="135.43" cy="801.91" r="4.4" fill="none" stroke="#000" stroke-width="1.25"/>
<circle cx="145.19" cy="792.65" r="4.4" fill="none" stroke="#000" stroke-width="1.25"/>
<circle cx="152.38" cy="785.55" r="4.4" fill="none" stroke="#000" stroke-width="1.25"/>
<circle cx="124.86" cy="813.31" r="4.4" fill="none" stroke="#000" stroke-width="1.25"/>
<circle cx="183.03" cy="758.64" r="4.4" fill="none" stroke="#000" stroke-width="1.25"/>
<circle cx="120.58" cy="816.26" r="4.4" fill="none" stroke="#000" stroke-width="1.25"/>
<circle cx="194.69" cy="751.03" r="4.4" fill="none" stroke="#000" stroke-width="1.25"/>
<circle cx="113.21" cy="817.87" r="4.4" fill="none" stroke="#000" stroke-width="1.25"/>
<circle cx="194.55" cy="748.54" r="4.4" fill="none" stroke="#000" stroke-width="1.25"/>
<circle cx="188.62" cy="754.68" r="4.4" fill="none" stroke="#000" stroke-width="1.25"/>
<circle cx="146.96" cy="788.78" r="4.4" fill="none" stroke="#000" stroke-width="1.25"/>
<circle cx="146.89" cy="799.74" r="4.4" fill="none" stroke="#000" stroke-width="1.25"/>
<circle cx="119" cy="810.36" r="4.4" fill="none" stroke="#000" stroke-width="1.25"/>
<circle cx="125.27" cy="812.16" r="4.4" fill="none" stroke="#000" stroke-width="1.25"/>
<circle cx="156.62" cy="785.56" r="4.4" fill="none" stroke="#000" stroke-width="1.25"/>
<circle cx="165.13" cy="774.37" r="4.4" fill="none" stroke="#000" stroke-width="1.25"/>
<circle cx="148.83" cy="790.09" r="4.4" fill="none" stroke="#000" stroke-width="1.25"/>
<circle cx="138.9" cy="789.11" r="4.4" fill="none" stroke="#000" stroke-width="1.25"/>
<circle cx="172.8" cy="762.83" r="4.4" fill="none" stroke="#000" stroke-width="1.25"/>
<circle cx="155.59" cy="778.5" r="4.4" fill="none" stroke="#000" stroke-width="1.25"/>
<circle cx="111.04" cy="820.72" r="4.4" fill="none" stroke="#000" stroke-width="1.25"/>
<circle cx="196.08" cy="747.03" r="4.4" fill="none" stroke="#000" stroke-width="1.25"/>
<circle cx="181.04" cy="750.72" r="4.4" fill="none" stroke="#000" stroke-width="1.25"/>
<circle cx="145.24" cy="791.41" r="4.4" fill="none" stroke="#000" stroke-width="1.25"/>
<circle cx="170.13" cy="770.93" r="4.4" fill="none" stroke="#000" stroke-width="1.25"/>
<circle cx="115.4" cy="823.79" r="4.4" fill="none" stroke="#000" stroke-width="1.25"/>
<circle cx="124.35" cy="813.89" r="4.4" fill="none" stroke="#000" stroke-width="1.25"/>
<circle cx="141.03" cy="797.1" r="4.4" fill="none" stroke="#000" stroke-width="1.25"/>
<circle cx="122.69" cy="814.25" r="4.4" fill="none" stroke="#000" stroke-width="1.25"/>
<circle cx="117.52" cy="818.42" r="4.4" fill="none" stroke="#000" stroke-width="1.25"/>
<circle cx="193.18" cy="748.84" r="4.4" fill="none" stroke="#000" stroke-width="1.25"/>
<circle cx="168.55" cy="773.18" r="4.4" fill="none" stroke="#000" stroke-width="1.25"/>
<circle cx="143.03" cy="797.82" r="4.4" fill="none" stroke="#000" stroke-width="1.25"/>
<rect x="89.7" y="549.3" width="304.4" height="307.5" fill="none" stroke="#1a1a1a" stroke-width="1.1"/>
<line x1="151.1" y1="856.8" x2="151.1" y2="853.3" stroke="#1a1a1a" stroke-width="1"/>
<line x1="151.1" y1="549.3" x2="151.1" y2="552.8" stroke="#1a1a1a" stroke-width="1"/>
<text x="151.1" y="880.2" font-size="16.6" fill="#3a3a3a" text-anchor="middle">40</text>
<line x1="232.1" y1="856.8" x2="232.1" y2="853.3" stroke="#1a1a1a" stroke-width="1"/>
<line x1="232.1" y1="549.3" x2="232.1" y2="552.8" stroke="#1a1a1a" stroke-width="1"/>
<text x="232.1" y="880.2" font-size="16.6" fill="#3a3a3a" text-anchor="middle">60</text>
<line x1="313.1" y1="856.8" x2="313.1" y2="853.3" stroke="#1a1a1a" stroke-width="1"/>
<line x1="313.1" y1="549.3" x2="313.1" y2="552.8" stroke="#1a1a1a" stroke-width="1"/>
<text x="313.1" y="880.2" font-size="16.6" fill="#3a3a3a" text-anchor="middle">80</text>
<line x1="394.1" y1="856.8" x2="394.1" y2="853.3" stroke="#1a1a1a" stroke-width="1"/>
<line x1="394.1" y1="549.3" x2="394.1" y2="552.8" stroke="#1a1a1a" stroke-width="1"/>
<text x="394.1" y="880.2" font-size="16.6" fill="#3a3a3a" text-anchor="middle">100</text>
<line x1="89.7" y1="834.5" x2="93.2" y2="834.5" stroke="#1a1a1a" stroke-width="1"/>
<line x1="394.1" y1="834.5" x2="390.6" y2="834.5" stroke="#1a1a1a" stroke-width="1"/>
<text x="81.3" y="840.44" font-size="16.6" fill="#3a3a3a" text-anchor="end">30</text>
<line x1="89.7" y1="793.7" x2="93.2" y2="793.7" stroke="#1a1a1a" stroke-width="1"/>
<line x1="394.1" y1="793.7" x2="390.6" y2="793.7" stroke="#1a1a1a" stroke-width="1"/>
<text x="81.3" y="799.64" font-size="16.6" fill="#3a3a3a" text-anchor="end">40</text>
<line x1="89.7" y1="752.9" x2="93.2" y2="752.9" stroke="#1a1a1a" stroke-width="1"/>
<line x1="394.1" y1="752.9" x2="390.6" y2="752.9" stroke="#1a1a1a" stroke-width="1"/>
<text x="81.3" y="758.84" font-size="16.6" fill="#3a3a3a" text-anchor="end">50</text>
<line x1="89.7" y1="712.1" x2="93.2" y2="712.1" stroke="#1a1a1a" stroke-width="1"/>
<line x1="394.1" y1="712.1" x2="390.6" y2="712.1" stroke="#1a1a1a" stroke-width="1"/>
<text x="81.3" y="718.04" font-size="16.6" fill="#3a3a3a" text-anchor="end">60</text>
<line x1="89.7" y1="671.3" x2="93.2" y2="671.3" stroke="#1a1a1a" stroke-width="1"/>
<line x1="394.1" y1="671.3" x2="390.6" y2="671.3" stroke="#1a1a1a" stroke-width="1"/>
<text x="81.3" y="677.24" font-size="16.6" fill="#3a3a3a" text-anchor="end">70</text>
<line x1="89.7" y1="630.5" x2="93.2" y2="630.5" stroke="#1a1a1a" stroke-width="1"/>
<line x1="394.1" y1="630.5" x2="390.6" y2="630.5" stroke="#1a1a1a" stroke-width="1"/>
<text x="81.3" y="636.44" font-size="16.6" fill="#3a3a3a" text-anchor="end">80</text>
<line x1="89.7" y1="589.7" x2="93.2" y2="589.7" stroke="#1a1a1a" stroke-width="1"/>
<line x1="394.1" y1="589.7" x2="390.6" y2="589.7" stroke="#1a1a1a" stroke-width="1"/>
<text x="81.3" y="595.64" font-size="16.6" fill="#3a3a3a" text-anchor="end">90</text>
<line x1="89.7" y1="548.9" x2="93.2" y2="548.9" stroke="#1a1a1a" stroke-width="1"/>
<line x1="394.1" y1="548.9" x2="390.6" y2="548.9" stroke="#1a1a1a" stroke-width="1"/>
<text x="81.3" y="554.84" font-size="16.6" fill="#3a3a3a" text-anchor="end">100</text>
<rect x="102.4" y="563.6" width="103" height="63.8" fill="#fff" stroke="#222" stroke-width="1.1"/>
<circle cx="133.6" cy="575.5" r="4.4" fill="none" stroke="#000" stroke-width="1.25"/>
<line x1="107.6" y1="594.9" x2="160.4" y2="594.9" stroke="#666" stroke-width="3.6"/>
<line x1="107.4" y1="615.7" x2="157.4" y2="615.7" stroke="#8a8a8a" stroke-width="1.7" stroke-dasharray="2.4 2.9"/>
<text x="163.4" y="581.1" font-size="14.6" fill="#111">Data</text>
<text x="163.4" y="601.9" font-size="14.6" fill="#111">Fit</text>
<text x="162.7" y="622.9" font-size="14.6" fill="#111">Y = T</text>
<text x="242.2" y="539.4" font-size="20.9" font-weight="bold" fill="#111" text-anchor="middle">All: R=0.97951</text>
<text x="243" y="907.6" font-size="20.7" font-weight="bold" fill="#222" text-anchor="middle">Target</text>
<text transform="translate(45,700.7) rotate(-90)" x="0" y="0" font-size="21" font-weight="bold" fill="#222" text-anchor="middle">Output ~= 0.96*Target + 1.8</text>
</g>
<g>
<line x1="483.2" y1="828" x2="483.2" y2="823.8" stroke="#1a1a1a" stroke-width="1"/>
<line x1="504.98" y1="828" x2="504.98" y2="823.8" stroke="#1a1a1a" stroke-width="1"/>
<line x1="526.76" y1="828" x2="526.76" y2="823.8" stroke="#1a1a1a" stroke-width="1"/>
<line x1="548.54" y1="828" x2="548.54" y2="823.8" stroke="#1a1a1a" stroke-width="1"/>
<line x1="570.32" y1="828" x2="570.32" y2="823.8" stroke="#1a1a1a" stroke-width="1"/>
<line x1="592.1" y1="828" x2="592.1" y2="823.8" stroke="#1a1a1a" stroke-width="1"/>
<line x1="613.88" y1="828" x2="613.88" y2="823.8" stroke="#1a1a1a" stroke-width="1"/>
<line x1="635.66" y1="828" x2="635.66" y2="823.8" stroke="#1a1a1a" stroke-width="1"/>
<line x1="657.44" y1="828" x2="657.44" y2="823.8" stroke="#1a1a1a" stroke-width="1"/>
<line x1="679.22" y1="828" x2="679.22" y2="823.8" stroke="#1a1a1a" stroke-width="1"/>
<line x1="701" y1="828" x2="701" y2="823.8" stroke="#1a1a1a" stroke-width="1"/>
<line x1="722.78" y1="828" x2="722.78" y2="823.8" stroke="#1a1a1a" stroke-width="1"/>
<line x1="744.56" y1="828" x2="744.56" y2="823.8" stroke="#1a1a1a" stroke-width="1"/>
<line x1="766.34" y1="828" x2="766.34" y2="823.8" stroke="#1a1a1a" stroke-width="1"/>
<line x1="788.12" y1="828" x2="788.12" y2="823.8" stroke="#1a1a1a" stroke-width="1"/>
<line x1="809.9" y1="828" x2="809.9" y2="823.8" stroke="#1a1a1a" stroke-width="1"/>
<line x1="831.68" y1="828" x2="831.68" y2="823.8" stroke="#1a1a1a" stroke-width="1"/>
<line x1="853.46" y1="828" x2="853.46" y2="823.8" stroke="#1a1a1a" stroke-width="1"/>
<line x1="875.24" y1="828" x2="875.24" y2="823.8" stroke="#1a1a1a" stroke-width="1"/>
<line x1="897.02" y1="828" x2="897.02" y2="823.8" stroke="#1a1a1a" stroke-width="1"/>
<rect x="474.75" y="819.11" width="16.9" height="8.89" fill="#0000ff" stroke="#000" stroke-width="1.1"/>
<rect x="648.99" y="810.21" width="16.9" height="17.79" fill="#0000ff" stroke="#000" stroke-width="1.1"/>
<rect x="670.77" y="819.11" width="16.9" height="8.89" fill="#00cc00" stroke="#000" stroke-width="1.1"/>
<rect x="692.55" y="810.21" width="16.9" height="17.79" fill="#0000ff" stroke="#000" stroke-width="1.1"/>
<rect x="714.33" y="801.32" width="16.9" height="26.68" fill="#0000ff" stroke="#000" stroke-width="1.1"/>
<rect x="736.11" y="783.53" width="16.9" height="44.47" fill="#0000ff" stroke="#000" stroke-width="1.1"/>
<rect x="736.11" y="765.75" width="16.9" height="17.79" fill="#00cc00" stroke="#000" stroke-width="1.1"/>
<rect x="736.11" y="739.07" width="16.9" height="26.68" fill="#ff0000" stroke="#000" stroke-width="1.1"/>
<rect x="757.89" y="685.71" width="16.9" height="142.29" fill="#0000ff" stroke="#000" stroke-width="1.1"/>
<rect x="757.89" y="676.82" width="16.9" height="8.89" fill="#00cc00" stroke="#000" stroke-width="1.1"/>
<rect x="757.89" y="659.03" width="16.9" height="17.79" fill="#ff0000" stroke="#000" stroke-width="1.1"/>
<rect x="779.67" y="641.25" width="16.9" height="186.75" fill="#0000ff" stroke="#000" stroke-width="1.1"/>
<rect x="779.67" y="596.78" width="16.9" height="44.47" fill="#00cc00" stroke="#000" stroke-width="1.1"/>
<rect x="779.67" y="561.21" width="16.9" height="35.57" fill="#ff0000" stroke="#000" stroke-width="1.1"/>
<rect x="801.45" y="783.53" width="16.9" height="44.47" fill="#0000ff" stroke="#000" stroke-width="1.1"/>
<rect x="801.45" y="756.86" width="16.9" height="26.68" fill="#00cc00" stroke="#000" stroke-width="1.1"/>
<rect x="801.45" y="747.96" width="16.9" height="8.89" fill="#ff0000" stroke="#000" stroke-width="1.1"/>
<rect x="823.23" y="739.07" width="16.9" height="88.93" fill="#0000ff" stroke="#000" stroke-width="1.1"/>
<rect x="823.23" y="703.5" width="16.9" height="35.57" fill="#00cc00" stroke="#000" stroke-width="1.1"/>
<rect x="823.23" y="685.71" width="16.9" height="17.79" fill="#ff0000" stroke="#000" stroke-width="1.1"/>
<rect x="845.01" y="792.43" width="16.9" height="35.57" fill="#0000ff" stroke="#000" stroke-width="1.1"/>
<rect x="845.01" y="783.53" width="16.9" height="8.89" fill="#ff0000" stroke="#000" stroke-width="1.1"/>
<rect x="866.79" y="810.21" width="16.9" height="17.79" fill="#0000ff" stroke="#000" stroke-width="1.1"/>
<rect x="866.79" y="801.32" width="16.9" height="8.89" fill="#00cc00" stroke="#000" stroke-width="1.1"/>
<rect x="866.79" y="792.43" width="16.9" height="8.89" fill="#ff0000" stroke="#000" stroke-width="1.1"/>
<rect x="888.57" y="819.11" width="16.9" height="8.89" fill="#0000ff" stroke="#000" stroke-width="1.1"/>
<rect x="888.57" y="810.21" width="16.9" height="8.89" fill="#ff0000" stroke="#000" stroke-width="1.1"/>
<text transform="translate(488.7,833.4) rotate(-90)" x="0" y="0" font-size="13" fill="#3a3a3a" text-anchor="end">-12.38</text>
<text transform="translate(510.48,833.4) rotate(-90)" x="0" y="0" font-size="13" fill="#3a3a3a" text-anchor="end">-11.49</text>
<text transform="translate(532.26,833.4) rotate(-90)" x="0" y="0" font-size="13" fill="#3a3a3a" text-anchor="end">-10.59</text>
<text transform="translate(554.04,833.4) rotate(-90)" x="0" y="0" font-size="13" fill="#3a3a3a" text-anchor="end">-9.701</text>
<text transform="translate(575.82,833.4) rotate(-90)" x="0" y="0" font-size="13" fill="#3a3a3a" text-anchor="end">-8.808</text>
<text transform="translate(597.6,833.4) rotate(-90)" x="0" y="0" font-size="13" fill="#3a3a3a" text-anchor="end">-7.915</text>
<text transform="translate(619.38,833.4) rotate(-90)" x="0" y="0" font-size="13" fill="#3a3a3a" text-anchor="end">-7.022</text>
<text transform="translate(641.16,833.4) rotate(-90)" x="0" y="0" font-size="13" fill="#3a3a3a" text-anchor="end">-6.13</text>
<text transform="translate(662.94,833.4) rotate(-90)" x="0" y="0" font-size="13" fill="#3a3a3a" text-anchor="end">-5.237</text>
<text transform="translate(684.72,833.4) rotate(-90)" x="0" y="0" font-size="13" fill="#3a3a3a" text-anchor="end">-4.344</text>
<text transform="translate(706.5,833.4) rotate(-90)" x="0" y="0" font-size="13" fill="#3a3a3a" text-anchor="end">-3.451</text>
<text transform="translate(728.28,833.4) rotate(-90)" x="0" y="0" font-size="13" fill="#3a3a3a" text-anchor="end">-2.558</text>
<text transform="translate(750.06,833.4) rotate(-90)" x="0" y="0" font-size="13" fill="#3a3a3a" text-anchor="end">-1.665</text>
<text transform="translate(771.84,833.4) rotate(-90)" x="0" y="0" font-size="13" fill="#3a3a3a" text-anchor="end">-0.7726</text>
<text transform="translate(793.62,833.4) rotate(-90)" x="0" y="0" font-size="13" fill="#3a3a3a" text-anchor="end">0.1202</text>
<text transform="translate(815.4,833.4) rotate(-90)" x="0" y="0" font-size="13" fill="#3a3a3a" text-anchor="end">1.013</text>
<text transform="translate(837.18,833.4) rotate(-90)" x="0" y="0" font-size="13" fill="#3a3a3a" text-anchor="end">1.906</text>
<text transform="translate(858.96,833.4) rotate(-90)" x="0" y="0" font-size="13" fill="#3a3a3a" text-anchor="end">2.799</text>
<text transform="translate(880.74,833.4) rotate(-90)" x="0" y="0" font-size="13" fill="#3a3a3a" text-anchor="end">3.691</text>
<text transform="translate(902.52,833.4) rotate(-90)" x="0" y="0" font-size="13" fill="#3a3a3a" text-anchor="end">4.584</text>
<line x1="472.3" y1="535.3" x2="472.3" y2="828.5" stroke="#1a1a1a" stroke-width="1.1"/>
<line x1="472.3" y1="828" x2="907" y2="828" stroke="#1a1a1a" stroke-width="1.1"/>
<line x1="472.3" y1="828" x2="476.7" y2="828" stroke="#1a1a1a" stroke-width="1"/>
<text x="466.1" y="834" font-size="13" fill="#3a3a3a" text-anchor="end">0</text>
<line x1="472.3" y1="783.53" x2="476.7" y2="783.53" stroke="#1a1a1a" stroke-width="1"/>
<text x="466.1" y="789.53" font-size="13" fill="#3a3a3a" text-anchor="end">5</text>
<line x1="472.3" y1="739.07" x2="476.7" y2="739.07" stroke="#1a1a1a" stroke-width="1"/>
<text x="466.1" y="745.07" font-size="13" fill="#3a3a3a" text-anchor="end">10</text>
<line x1="472.3" y1="694.61" x2="476.7" y2="694.61" stroke="#1a1a1a" stroke-width="1"/>
<text x="466.1" y="700.61" font-size="13" fill="#3a3a3a" text-anchor="end">15</text>
<line x1="472.3" y1="650.14" x2="476.7" y2="650.14" stroke="#1a1a1a" stroke-width="1"/>
<text x="466.1" y="656.14" font-size="13" fill="#3a3a3a" text-anchor="end">20</text>
<line x1="472.3" y1="605.67" x2="476.7" y2="605.67" stroke="#1a1a1a" stroke-width="1"/>
<text x="466.1" y="611.67" font-size="13" fill="#3a3a3a" text-anchor="end">25</text>
<line x1="472.3" y1="561.21" x2="476.7" y2="561.21" stroke="#1a1a1a" stroke-width="1"/>
<text x="466.1" y="567.21" font-size="13" fill="#3a3a3a" text-anchor="end">30</text>
<line x1="785.5" y1="535.3" x2="785.5" y2="828" stroke="#ff9d00" stroke-width="2.6"/>
<rect x="764.2" y="546.3" width="132.8" height="68.1" fill="#fff" stroke="#222" stroke-width="1.1"/>
<rect x="768.5" y="550.1" width="39.6" height="11.2" fill="#0000ff" stroke="#000" stroke-width="1.1"/>
<rect x="768.5" y="567.1" width="39.6" height="11" fill="#00cc00" stroke="#000" stroke-width="1.1"/>
<rect x="768.5" y="583" width="39.6" height="11.2" fill="#ff0000" stroke="#000" stroke-width="1.1"/>
<line x1="768" y1="605.3" x2="808.2" y2="605.3" stroke="#ff9d00" stroke-width="2.8"/>
<text x="811.4" y="560.9" font-size="12" fill="#111">Train error</text>
<text x="811.4" y="577.5" font-size="12" fill="#111">Validation error</text>
<text x="811.4" y="593.6" font-size="12" fill="#111">Test error</text>
<text x="811.4" y="609.8" font-size="12" fill="#111">Zero Error</text>
<text x="690" y="529" font-size="16" font-weight="bold" fill="#111" text-anchor="middle">Error Histogram with 20 Bins</text>
<text x="688.5" y="898.9" font-size="15.8" font-weight="bold" fill="#111" text-anchor="middle">Errors</text>
<text transform="translate(443.6,681.4) rotate(-90)" x="0" y="0" font-size="16" font-weight="bold" fill="#111" text-anchor="middle">Instances</text>
</g>
<rect x="9.2" y="7.3" width="914.6" height="2.6" fill="#746d6d"/>
<rect x="9.2" y="429.6" width="914.6" height="2.6" fill="#746d6d"/>
<rect x="9.2" y="7.3" width="2.2" height="424.9" fill="#746d6d"/>
<rect x="421.2" y="7.3" width="4.6" height="424.9" fill="#746d6d"/>
<rect x="921.1" y="7.3" width="2.7" height="424.9" fill="#746d6d"/>
<rect x="9.2" y="501.9" width="913.7" height="2.3" fill="#746d6d"/>
<rect x="9.2" y="924.6" width="913.7" height="2.2" fill="#746d6d"/>
<rect x="9.2" y="501.9" width="2" height="424.9" fill="#746d6d"/>
<rect x="420.2" y="501.9" width="4.6" height="424.9" fill="#746d6d"/>
<rect x="920.2" y="501.9" width="2.7" height="424.9" fill="#746d6d"/>
<rect x="9.2" y="381" width="63.4" height="51.2" fill="#746d6d"/>
<rect x="12.6" y="384.3" width="56.8" height="44.6" fill="#1b9ad6"/>
<text x="28" y="418.1" style="font-family:&quot;Liberation Serif&quot;,serif" font-size="22.5" fill="#000">D</text>
<text x="44" y="418.1" style="font-family:&quot;Liberation Serif&quot;,serif" font-size="14" fill="#000">R</text>
<rect x="421.2" y="378.1" width="64.7" height="54.4" fill="#746d6d"/>
<rect x="427" y="381" width="56.1" height="48.1" fill="#1b9ad6"/>
<text x="441.7" y="414.1" style="font-family:&quot;Liberation Serif&quot;,serif" font-size="22.5" fill="#000">D</text>
<text x="460.3" y="414.1" style="font-family:&quot;Liberation Serif&quot;,serif" font-size="13.2" fill="#000">E</text>
<rect x="7.3" y="875.3" width="58.2" height="51.3" fill="#746d6d"/>
<rect x="9.9" y="879.1" width="53.3" height="43.9" fill="#1b9ad6"/>
<text x="26.3" y="912.2" style="font-family:&quot;Liberation Serif&quot;,serif" font-size="22.5" fill="#000">E</text>
<text x="38.8" y="912.2" style="font-family:&quot;Liberation Serif&quot;,serif" font-size="14" fill="#000">R</text>
<rect x="420.2" y="872" width="61.6" height="54.6" fill="#746d6d"/>
<rect x="425.9" y="874.9" width="52.5" height="48.2" fill="#1b9ad6"/>
<text x="441.8" y="909.1" style="font-family:&quot;Liberation Serif&quot;,serif" font-size="22.5" fill="#000">E</text>
<text x="455.6" y="909.1" style="font-family:&quot;Liberation Serif&quot;,serif" font-size="13.2" fill="#000">E</text>
<text x="447.8" y="468" style="font-family:&quot;Liberation Serif&quot;,serif" font-size="22.5" fill="#000">(</text>
<text x="457" y="467.9" style="font-family:&quot;Liberation Serif&quot;,serif;font-weight:bold" font-size="23.3" fill="#000">D</text>
<text x="473.1" y="468" style="font-family:&quot;Liberation Serif&quot;,serif" font-size="22.5" fill="#000">)</text>
<text x="450.9" y="961.9" style="font-family:&quot;Liberation Serif&quot;,serif" font-size="22.5" fill="#000">(</text>
<text transform="translate(459,961.8) scale(0.86,1)" x="0" y="0" style="font-family:&quot;Liberation Serif&quot;,serif;font-weight:bold" font-size="22.8" fill="#000">E</text>
<text x="471.2" y="961.9" style="font-family:&quot;Liberation Serif&quot;,serif" font-size="22.5" fill="#000">)</text>
</svg>
</body></html>
